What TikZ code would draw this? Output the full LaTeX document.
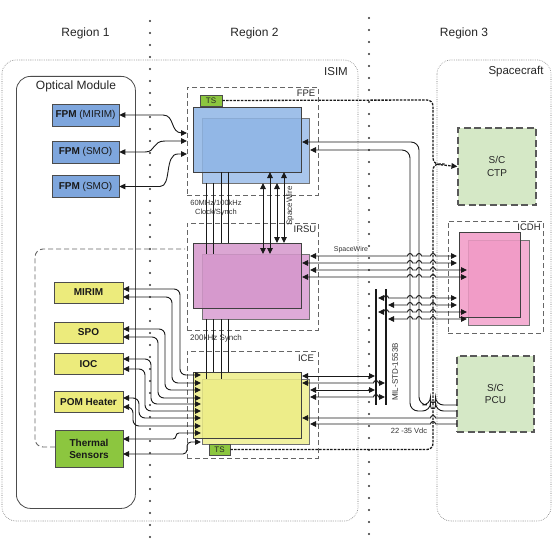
\documentclass[tikz,border=0pt]{standalone}
\usepackage{fontspec}
\setmainfont{Liberation Sans}
\usetikzlibrary{arrows.meta}
\definecolor{fpmc}{HTML}{7EA6DD}
\definecolor{fpeF}{HTML}{8FB5E6}
\definecolor{fpeB}{HTML}{A9C6EC}
\definecolor{irsuF}{HTML}{D597CC}
\definecolor{irsuB}{HTML}{DEABD8}
\definecolor{iceF}{HTML}{EDED86}
\definecolor{iceB}{HTML}{F1F1A0}
\definecolor{icdhF}{HTML}{F199C6}
\definecolor{icdhB}{HTML}{F4AFD3}
\definecolor{ylw}{HTML}{ECEB7C}
\definecolor{grn}{HTML}{8CC63F}
\definecolor{scg}{HTML}{D5E8C6}
\newcommand\hop[2]{-- ({#1-2.5},#2) arc[start angle=180,end angle=0,radius=2.5pt]}
\begin{document}
\begin{tikzpicture}[x=1pt,y=-1pt,
  >={Triangle[length=6pt,width=5.5pt]},
  lbl/.style={font=\fontsize{12}{14}\selectfont, text=black!85, inner sep=0},
  small/.style={font=\fontsize{7.5}{9}\selectfont, text=black!80, inner sep=0, align=center},
  grplbl/.style={font=\fontsize{9.5}{11}\selectfont, text=black!85, inner sep=0},
  conn/.style={line width=0.9pt, draw=black!90},
  dotframe/.style={draw=black!55, line width=0.6pt, dash pattern=on 0.6pt off 1.2pt, rounded corners=14pt},
  grpbox/.style={draw=black!60, dash pattern=on 5pt off 3pt, line width=0.9pt, anchor=north west, inner sep=0, outer sep=0},
  backbox/.style={draw=black!55, line width=0.6pt, anchor=north west, inner sep=0, outer sep=0},
  frontbox/.style={draw=black!75, line width=0.7pt, fill opacity=0.85, anchor=north west, inner sep=0, outer sep=0},
  sz/.style 2 args={minimum width=#1pt, minimum height=#2pt},
  fpmbox/.style={draw=black!70, line width=0.6pt, fill=fpmc, minimum width=67pt, minimum height=22pt, inner sep=0, font=\fontsize{10}{12}\selectfont, text=black!90},
  ybox/.style={draw=black!70, line width=0.6pt, fill=ylw, minimum width=69pt, minimum height=21pt, inner sep=0, font=\fontsize{10}{12}\selectfont\bfseries, text=black!90},
  tsbox/.style={draw=black!70, line width=0.6pt, fill=grn, inner sep=0, font=\fontsize{8}{9}\selectfont, text=black!85},
  scbox/.style={draw=black!65, dash pattern=on 7pt off 3.5pt, line width=1.1pt, fill=scg, inner sep=0, align=center, font=\fontsize{10}{12.5}\selectfont, text=black!85},
  tsline/.style={line width=1.3pt, draw=black!90, dash pattern=on 2.5pt off 1.2pt, rounded corners=6pt},
  bus/.style={line width=1.5pt, draw=black!90}
]
\useasboundingbox (0,0) rectangle (552,543);
\fill[white] (0,0) rectangle (552,543);

% region labels
\node[lbl] (r1) at (85.5,33) {Region 1};
\node[lbl] (r2) at (254.5,33) {Region 2};
\node[lbl] (r3) at (464,33) {Region 3};
\foreach \k in {0,...,43} \fill[black!80] (150,21+12*\k) circle[radius=1.1pt];
\foreach \k in {0,...,43} \fill[black!80] (369,18+12*\k) circle[radius=1.1pt];

% frames
\draw[dotframe] (2,60) rectangle (358,521);
\node[lbl, font=\fontsize{11.5}{13}\selectfont] (isim) at (336,72) {ISIM};
\draw[dotframe] (437,60) rectangle (551,521);
\node[lbl, font=\fontsize{11.5}{13}\selectfont] (scl) at (516,72) {Spacecraft};
\node[draw=black!70, line width=0.8pt, rounded corners=14pt, anchor=north west, sz={119}{432}, inner sep=0] (om) at (16,76) {};
\node[lbl] (oml) at (76,86) {Optical Module};
\draw[draw=black!60, dash pattern=on 5pt off 3pt, line width=0.9pt, rounded corners=8pt] (55,447) -- (35,447) -- (35,249) -- (185,249);

% group boxes
\node[grpbox, sz={131}{108}] (fpeg) at (187,87) {};
\node[grplbl] at (306,93) {FPE};
\node[grpbox, sz={131}{107}] (irsug) at (187,223) {};
\node[grplbl] at (305,229) {IRSU};
\node[grpbox, sz={131}{107}] (iceg) at (187,351) {};
\node[grplbl] at (306,358) {ICE};
\node[grpbox, sz={95}{112}] (icdhg) at (448,221) {};
\node[grplbl] at (529,227) {ICDH};

% unit rectangles
\node[backbox, fill=fpeB, sz={107}{65}] (fpeb) at (202,118) {};
\node[frontbox, fill=fpeF, sz={108}{65}] (fpef) at (193,107) {};
\node[backbox, fill=irsuB, sz={107}{65}] (irsub) at (202,254) {};
\node[frontbox, fill=irsuF, sz={108}{65}] (irsuf) at (193,243) {};
\node[backbox, fill=iceB, sz={107}{65}] (iceb) at (202,379) {};
\node[frontbox, fill=iceF, sz={108}{66}] (icef) at (193,372) {};
\node[backbox, fill=icdhB, sz={61}{85}] (icdhb) at (468,240) {};
\node[frontbox, fill=icdhF, sz={61}{85}] (icdhf) at (459,232) {};
\node[tsbox, sz={22}{11}] (ts1) at (211,100.5) {TS};
\node[tsbox, sz={21}{11}] (ts2) at (219.5,449.5) {TS};

% spacecraft units
\node[scbox, sz={78}{77}] (ctp) at (497,166.5) {S/C\\CTP};
\node[scbox, sz={77}{76}] (pcu) at (495.5,394) {S/C\\PCU};

% optical module boxes
\node[fpmbox] (fpm1) at (85.5,115) {\textbf{FPM} (MIRIM)};
\node[fpmbox] (fpm2) at (85.5,152) {\textbf{FPM} (SMO)};
\node[fpmbox] (fpm3) at (85.5,186.5) {\textbf{FPM} (SMO)};
\node[ybox] (mirim) at (88.5,292.5) {MIRIM};
\node[ybox] (spo) at (88.5,332.5) {SPO};
\node[ybox] (ioc) at (88.5,364) {IOC};
\node[ybox] (pom) at (88.5,402) {POM Heater};
\node[ybox, fill=grn, minimum width=68pt, minimum height=37pt, align=center] (therm) at (89,448.5) {Thermal\\Sensors};

% FPM links
\draw[conn,<->] (fpm1.east) -- (163,115) .. controls (175,115) and (170,133) .. (182,133) -- (187,133);
\draw[conn,<->] (fpm2.east) -- (145,152) .. controls (156,152) and (152,141) .. (165,141) -- (187,141);
\draw[conn,<->] (fpm3.east) -- (160,186.5) .. controls (172,186.5) and (164,154) .. (178,154) -- (187,154);

% clock / synch lines
\draw[conn] (206,183) -- (206,254);
\draw[conn] (213,183) -- (213,254);
\draw[conn] (221,172) -- (221,243);
\draw[conn] (228,172) -- (228,243);
\draw[conn] (206,319) -- (206,379);
\draw[conn] (213,319) -- (213,372);
\draw[conn] (221,319) -- (221,379);
\draw[conn] (228,319) -- (228,372);
\node[small] (clk) at (216,208.5) {60MHz/100kHz\\Clock/Synch};
\node[small, font=\fontsize{8}{9}\selectfont] (syn) at (216,338) {200kHz Synch};

% SpaceWire FPE - IRSU
\draw[conn,<->] (263,183) -- (263,254);
\draw[conn,<->] (270,172) -- (270,254);
\draw[conn,<->] (277,183) -- (277,243);
\draw[conn,<->] (284,172) -- (284,243);
\node[small, font=\fontsize{8}{9}\selectfont, rotate=90] (swv) at (290,206) {SpaceWire};

% SpaceWire IRSU - ICDH
\draw[conn,<->] (310,256) \hop{410}{256} \hop{419}{256} \hop{433}{256} -- (457,256);
\draw[conn,<->] (302,263) \hop{410}{263} \hop{419}{263} \hop{433}{263} -- (457,263);
\draw[conn,<->] (310,270) \hop{410}{270} \hop{419}{270} \hop{433}{270} -- (467,270);
\draw[conn,<->] (302,277) \hop{410}{277} \hop{419}{277} \hop{433}{277} -- (467,277);
\node[small, font=\fontsize{7}{8}\selectfont] (swh) at (351,250) {SpaceWire};

% MIL-STD-1553B bus
\draw[bus] (376,289) -- (376,405);
\draw[bus] (386,289) -- (386,405);
\node[small, font=\fontsize{8}{9}\selectfont, rotate=90] (busl) at (395,372) {MIL-STD-1553B};
\draw[conn,<->] (378,298) \hop{386}{298} \hop{410}{298} \hop{419}{298} \hop{433}{298} -- (457,298);
\draw[conn,<->] (388,305) \hop{410}{305} \hop{419}{305} \hop{433}{305} -- (457,305);
\draw[conn,<->] (378,312) \hop{386}{312} \hop{410}{312} \hop{419}{312} \hop{433}{312} -- (467,312);
\draw[conn,<->] (388,319) \hop{410}{319} \hop{419}{319} \hop{433}{319} -- (467,319);
\draw[conn,<->] (302,376) -- (375,376);
\draw[conn,<->] (302,383) \hop{376}{383} -- (385,383);
\draw[conn,<->] (310,390) -- (375,390);
\draw[conn,<->] (310,397) \hop{376}{397} -- (385,397);

% power
\draw[conn,<-,rounded corners=8pt] (302,142) -- (419,142) -- (419,405) \hop{433}{405} -- (457,405);
\draw[conn,<-,rounded corners=8pt] (310,150) -- (410,150) -- (410,411) \hop{433}{411} -- (457,411);
\draw[conn,<-] (302,418) \hop{433}{418} -- (457,418);
\draw[conn,<-] (310,424) \hop{433}{424} -- (457,424);
\node[small] (vdc) at (409,431) {22 -35 Vdc};

% ICE to instrument boxes
\draw[conn,<->,rounded corners=6pt] (123,289) -- (180,289) -- (180,375) -- (201,375);
\draw[conn,<->,rounded corners=6pt] (123,297) -- (172,297) -- (172,383) -- (201,383);
\draw[conn,<->,rounded corners=6pt] (123,329) -- (165,329) -- (165,390) -- (201,390);
\draw[conn,<->,rounded corners=6pt] (123,337) -- (158,337) -- (158,398) -- (201,398);
\draw[conn,<->,rounded corners=6pt] (123,359) -- (151,359) -- (151,404) -- (201,404);
\draw[conn,<->,rounded corners=6pt] (123,369) -- (145,369) -- (145,411) -- (201,411);
\draw[conn,<->,rounded corners=6pt] (123,398) -- (139,398) -- (139,418) -- (201,418);
\draw[conn,<->,rounded corners=6pt] (123,407) -- (133,407) -- (133,426) -- (201,426);
\draw[conn,<->,rounded corners=3pt] (123,439) -- (176,439) -- (176,433) -- (201,433);
\draw[conn,<->,rounded corners=4pt] (123,454) -- (187,454) -- (187,442) -- (201,442);

% TS lines
\draw[tsline,->] (ts1.east) -- (433,100) -- (433,164) -- (ctp.west);
\draw[tsline] (ts2.east) -- (433,449.5) -- (433,164) -- (445,164);
\end{tikzpicture}
\end{document}
